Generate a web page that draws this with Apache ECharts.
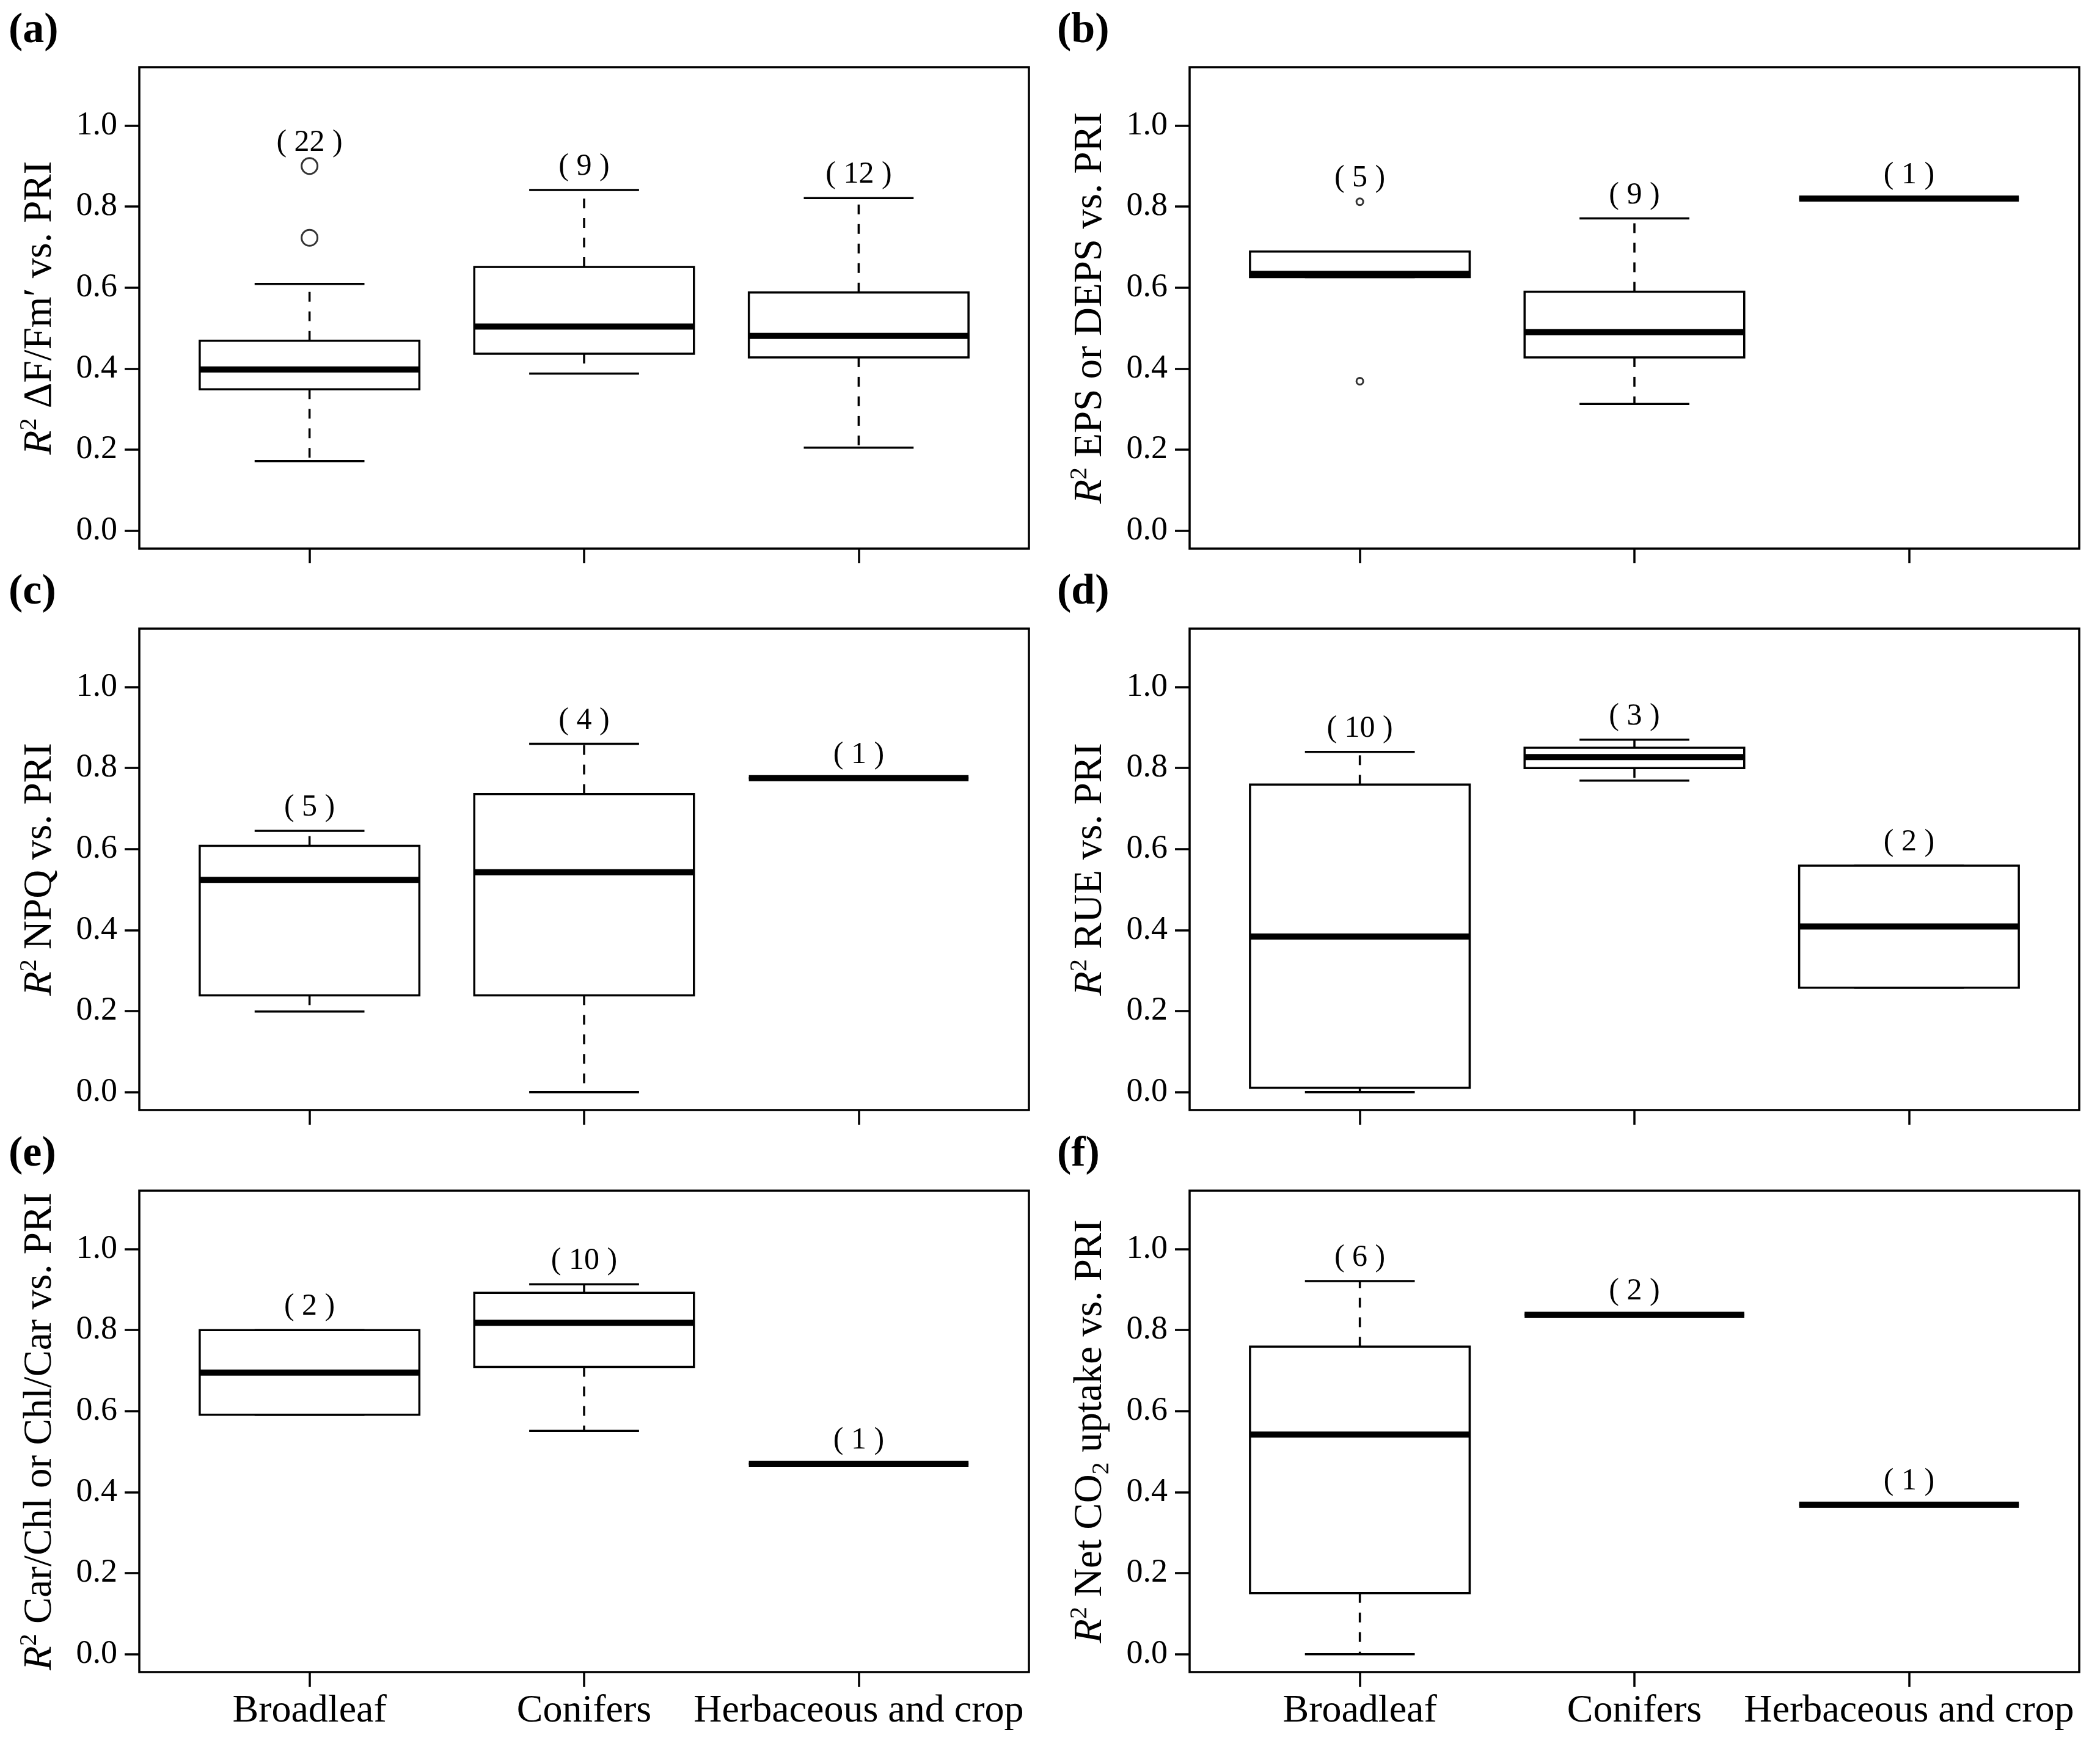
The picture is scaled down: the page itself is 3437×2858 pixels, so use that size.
<!DOCTYPE html>
<html>
<head>
<meta charset="utf-8">
<script src="https://cdn.jsdelivr.net/npm/echarts@6/dist/echarts.min.js"></script>
<style>
  html, body { margin: 0; padding: 0; background: #fff; }
  #chart { width: 3437px; height: 2858px; }
</style>
</head>
<body>
<div id="chart"></div>
<script>
// categories along x, shared by all panels
const categories = ['Broadleaf', 'Conifers', 'Herbaceous and crop'];
const yTicks = [0, 0.2, 0.4, 0.6, 0.8, 1.0];
const panelLetters = ['(a)', '(b)', '(c)', '(d)', '(e)', '(f)'];
const yTitles = [
    '{i|R}{sup|2} ΔF/Fm′ vs. PRI',
    '{i|R}{sup|2} EPS or DEPS vs. PRI',
    '{i|R}{sup|2} NPQ vs. PRI',
    '{i|R}{sup|2} RUE vs. PRI',
    '{i|R}{sup|2} Car/Chl or Chl/Car vs. PRI',
    '{i|R}{sup|2} Net CO{sub|2} uptake vs. PRI'
];

// box stats per category: [lower whisker, Q1, median, Q3, upper whisker]
const statsA = [[0.172, 0.349, 0.398, 0.469, 0.609], [0.388, 0.437, 0.504, 0.651, 0.841], [0.205, 0.428, 0.481, 0.588, 0.821]];
const statsB = [[0.626, 0.626, 0.634, 0.689, 0.689], [0.313, 0.428, 0.490, 0.590, 0.771], [0.820, 0.820, 0.820, 0.820, 0.820]];
const statsC = [[0.199, 0.239, 0.524, 0.608, 0.645], [0.0, 0.239, 0.543, 0.736, 0.860], [0.775, 0.775, 0.775, 0.775, 0.775]];
const statsD = [[0.0, 0.011, 0.384, 0.759, 0.840], [0.769, 0.800, 0.827, 0.850, 0.870], [0.258, 0.258, 0.409, 0.559, 0.559]];
const statsE = [[0.591, 0.591, 0.695, 0.800, 0.800], [0.551, 0.709, 0.818, 0.892, 0.913], [0.470, 0.470, 0.470, 0.470, 0.470]];
const statsF = [[0.0, 0.151, 0.542, 0.759, 0.921], [0.838, 0.838, 0.838, 0.838, 0.838], [0.369, 0.369, 0.369, 0.369, 0.369]];

// outliers per category
const outA = [[0.723, 0.900], [], []];
const outB = [[0.369, 0.812], [], []];
const outC = [[], [], []];
const outD = [[], [], []];
const outE = [[], [], []];
const outF = [[], [], []];

// number of studies per category
const nA = [22, 9, 12];
const nB = [5, 9, 1];
const nC = [5, 4, 1];
const nD = [10, 3, 2];
const nE = [2, 10, 1];
const nF = [6, 2, 1];

const allStats = [statsA, statsB, statsC, statsD, statsE, statsF];
const allOut = [outA, outB, outC, outD, outE, outF];
const allN = [nA, nB, nC, nD, nE, nF];

const FONT = 'Liberation Serif';
const gridLefts = [228, 1947];
const gridTops = [110, 1029, 1949];
const gridW = 1456, gridH = 788;
const outlierSize = [26, 11, 12, 12, 12, 12];

const myChart = echarts.init(document.getElementById('chart'), null, { renderer: 'canvas' });

function renderBox(params, api) {
    const x = api.value(0);
    const cx = api.coord([x, 0])[0];
    const hw = api.size([0.8, 0])[0] / 2;
    const y = i => api.coord([x, api.value(i)])[1];
    const yLo = y(1), yQ1 = y(2), yMed = y(3), yQ3 = y(4), yHi = y(5), yTop = y(6);
    const solid = { stroke: '#000', lineWidth: 3.5, fill: null };
    const dashed = { stroke: '#000', lineWidth: 3.5, lineDash: [16, 16], fill: null };
    const children = [
        { type: 'line', shape: { x1: cx, y1: yQ1, x2: cx, y2: yLo }, style: dashed },
        { type: 'line', shape: { x1: cx, y1: yQ3, x2: cx, y2: yHi }, style: dashed },
        { type: 'line', shape: { x1: cx - hw / 2, y1: yLo, x2: cx + hw / 2, y2: yLo }, style: solid },
        { type: 'line', shape: { x1: cx - hw / 2, y1: yHi, x2: cx + hw / 2, y2: yHi }, style: solid },
        { type: 'rect', shape: { x: cx - hw, y: yQ3, width: 2 * hw, height: yQ1 - yQ3 },
          style: { stroke: '#000', lineWidth: 3.5, fill: '#fff' } },
        { type: 'line', shape: { x1: cx - hw, y1: yMed, x2: cx + hw, y2: yMed },
          style: { stroke: '#000', lineWidth: 10 } },
        { type: 'text', x: cx, y: yTop - 38,
          style: { text: '( ' + api.value(7) + ' )', fontFamily: FONT, fontSize: 50,
                   fill: '#000', align: 'center', verticalAlign: 'middle' } }
    ];
    return { type: 'group', children: children };
}

const grid = [], xAxis = [], yAxis = [], series = [], graphic = [];

for (let p = 0; p < 6; p++) {
    const col = p % 2, row = Math.floor(p / 2);
    grid.push({
        left: gridLefts[col], top: gridTops[row], width: gridW, height: gridH,
        show: true, borderColor: '#000', borderWidth: 3.5, backgroundColor: 'transparent'
    });
    xAxis.push({
        type: 'value', gridIndex: p, min: 0.38, max: 3.62, position: 'bottom',
        splitLine: { show: false },
        axisLine: { show: false, onZero: false },
        axisTick: { show: true, customValues: [1, 2, 3], length: 24, lineStyle: { color: '#000', width: 3.5 } },
        axisLabel: {
            show: row === 2, customValues: [1, 2, 3], margin: 32,
            formatter: v => categories[Math.round(v) - 1] || '',
            fontFamily: FONT, fontSize: 64, color: '#000'
        }
    });
    yAxis.push({
        type: 'value', gridIndex: p, min: -0.044, max: 1.144, position: 'left',
        splitLine: { show: false },
        axisLine: { show: false, onZero: false },
        axisTick: { show: true, customValues: yTicks, length: 24, lineStyle: { color: '#000', width: 3.5 } },
        axisLabel: {
            customValues: yTicks, margin: 36,
            formatter: v => v.toFixed(1),
            fontFamily: FONT, fontSize: 54, color: '#000'
        },
        name: yTitles[p], nameLocation: 'middle', nameRotate: 90, nameGap: 124,
        nameTextStyle: {
            fontFamily: FONT, fontSize: 65, color: '#000', lineHeight: 76,
            rich: {
                i: { fontFamily: FONT, fontSize: 65, fontStyle: 'italic', color: '#000' },
                sup: { fontFamily: FONT, fontSize: 40, lineHeight: 40, verticalAlign: 'top', color: '#000' },
                sub: { fontFamily: FONT, fontSize: 40, lineHeight: 40, verticalAlign: 'bottom', color: '#000' }
            }
        }
    });

    const boxData = allStats[p].map((s, i) => {
        const top = Math.max(s[4], ...allOut[p][i]);
        return [i + 1, s[0], s[1], s[2], s[3], s[4], top, allN[p][i]];
    });
    series.push({
        type: 'custom', xAxisIndex: p, yAxisIndex: p, clip: false,
        renderItem: renderBox,
        encode: { x: 0, y: [1, 2, 3, 4, 5] },
        data: boxData, silent: true
    });

    const outData = [];
    allOut[p].forEach((arr, i) => arr.forEach(v => outData.push([i + 1, v])));
    series.push({
        type: 'scatter', xAxisIndex: p, yAxisIndex: p, symbol: 'circle',
        symbolSize: outlierSize[p], silent: true, z: 5,
        itemStyle: { color: '#fff', borderColor: '#000', borderWidth: 3 },
        data: outData
    });

    graphic.push({
        type: 'text', left: col === 0 ? 14 : 1730, top: gridTops[row] - 94,
        style: { text: panelLetters[p], fontFamily: FONT, fontSize: 70, fontWeight: 'bold', fill: '#000' }
    });
}

myChart.setOption({
    backgroundColor: '#fff',
    animation: false,
    grid: grid,
    xAxis: xAxis,
    yAxis: yAxis,
    series: series,
    graphic: graphic
});

window.addEventListener('resize', function () {
    myChart.resize();
});
</script>
</body>
</html>
